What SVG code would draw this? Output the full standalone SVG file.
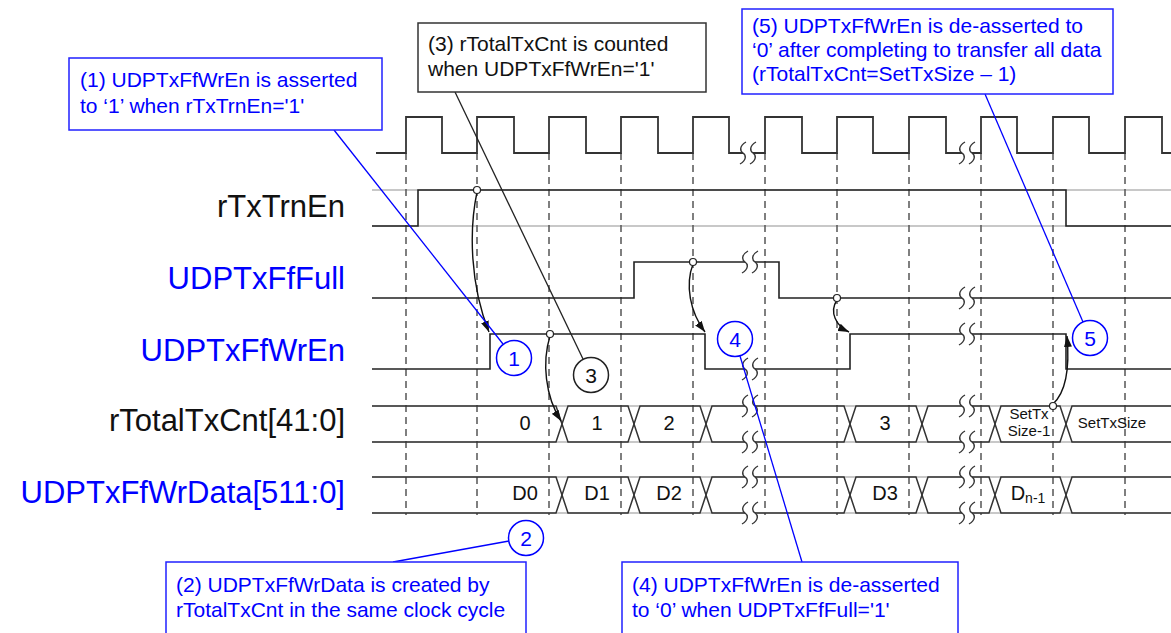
<svg xmlns="http://www.w3.org/2000/svg" xmlns:xlink="http://www.w3.org/1999/xlink" width="1171" height="633" viewBox="0 0 1171 633">
<style>
.sig{fill:none;stroke:#222;stroke-width:1.6}
.clk{fill:none;stroke:#333;stroke-width:1.8}
.guide{stroke:#c8c8c8;stroke-width:2}
.dash{stroke:#555;stroke-width:1.5;stroke-dasharray:7 5}
.bus{fill:none;stroke:#333;stroke-width:1.5}
.lbl{font-family:"Liberation Sans",Arial,sans-serif;font-size:31px;text-anchor:end}
.blue{fill:#0000ff}
.blk{fill:#111}
.ann{font-family:"Liberation Sans",Arial,sans-serif;font-size:21px}
.val{font-family:"Liberation Sans",Arial,sans-serif;font-size:20px;text-anchor:middle;fill:#111}
.bxb{fill:#fff;stroke:#2020ff;stroke-width:1.5}
.bxk{fill:#fff;stroke:#333;stroke-width:1.5}
.lead{stroke:#0000ff;stroke-width:1.3;fill:none}
.leadk{stroke:#222;stroke-width:1.3;fill:none}
.arr{fill:none;stroke:#111;stroke-width:1.4;marker-end:url(#ah)}
.dot{fill:#fff;stroke:#222;stroke-width:1.2}
.nb{fill:#fff;stroke:#0000ff;stroke-width:1.5}
.nk{fill:#fff;stroke:#222;stroke-width:1.5}
.nt{font-family:"Liberation Sans",Arial,sans-serif;font-size:21px;text-anchor:middle}
.brk{fill:none;stroke:#333;stroke-width:1.4}
</style>
<defs>
<marker id="ah" markerUnits="userSpaceOnUse" markerWidth="11" markerHeight="8" refX="11" refY="4" orient="auto">
<path d="M0,0 L11,4 L0,8 z" fill="#111"/>
</marker>
<g id="br">
<rect x="-5" y="-3" width="10" height="6" fill="#fff"/>
<path class="brk" d="M-2,-11 C-9,-7 -8,-2 -5,0 C-2,2 -1,7 -8,11"/>
<path class="brk" d="M8,-11 C1,-7 2,-2 5,0 C8,2 9,7 2,11"/>
</g>
</defs>

<g id="guides">
<line class="guide" x1="372" y1="190" x2="1171" y2="190"/>
<line class="guide" x1="372" y1="226" x2="1171" y2="226"/>
<line class="guide" x1="372" y1="406" x2="1171" y2="406"/>
<line class="guide" x1="372" y1="442" x2="1171" y2="442"/>
<line class="guide" x1="372" y1="477" x2="1171" y2="477"/>
<line class="guide" x1="372" y1="513" x2="1171" y2="513"/>
</g>

<g id="gridlines">
<line class="dash" x1="406" y1="153" x2="406" y2="515"/>
<line class="dash" x1="477" y1="153" x2="477" y2="515"/>
<line class="dash" x1="549" y1="153" x2="549" y2="515"/>
<line class="dash" x1="621" y1="153" x2="621" y2="515"/>
<line class="dash" x1="693" y1="153" x2="693" y2="515"/>
<line class="dash" x1="765" y1="153" x2="765" y2="515"/>
<line class="dash" x1="837" y1="153" x2="837" y2="515"/>
<line class="dash" x1="909" y1="153" x2="909" y2="515"/>
<line class="dash" x1="981" y1="153" x2="981" y2="515"/>
<line class="dash" x1="1053" y1="153" x2="1053" y2="515"/>
<line class="dash" x1="1125" y1="153" x2="1125" y2="515"/>
</g>

<g id="clock">
<path class="clk" d="M376,153 H406 V117 H442 V153 H477 V117 H514 V153 H549 V117 H586 V153 H621 V117 H658 V153 H693 V117 H729 V153 H765 V117 H802 V153 H837 V117 H873 V153 H909 V117 H946 V153 H981 V117 H1017 V153 H1053 V117 H1089 V153 H1125 V117 H1162 V153 H1171"/>
<use xlink:href="#br" transform="translate(748,153)"/>
<use xlink:href="#br" transform="translate(967,153)"/>
</g>

<g id="rTxTrnEn">
<text class="lbl blk" x="345" y="217">rTxTrnEn</text>
<path class="sig" d="M372,226 H418 V190 H1066 V226 H1171"/>
</g>

<g id="UDPTxFfFull">
<text class="lbl blue" x="345" y="289">UDPTxFfFull</text>
<path class="sig" d="M372,298 H634 V262 H779 V298 H1171"/>
<use xlink:href="#br" transform="translate(750,262)"/>
<use xlink:href="#br" transform="translate(967,298)"/>
</g>

<g id="UDPTxFfWrEn">
<text class="lbl blue" x="345" y="361">UDPTxFfWrEn</text>
<path class="sig" d="M372,369 H490 V334 H705 V369 H850 V334 H1066 V369 H1171"/>
<use xlink:href="#br" transform="translate(750,369)"/>
<use xlink:href="#br" transform="translate(967,334)"/>
</g>

<g id="rTotalTxCnt">
<text class="lbl blk" x="345" y="431">rTotalTxCnt[41:0]</text>
<path class="bus" d="M372,406 H556 L562,424 L556,442 H372"/>
<path class="bus" d="M562,424 L568,406 H628 L634,424 L628,442 H568 Z"/>
<path class="bus" d="M634,424 L640,406 H700 L706,424 L700,442 H640 Z"/>
<path class="bus" d="M706,424 L712,406 H844 L850,424 L844,442 H712 Z"/>
<path class="bus" d="M850,424 L856,406 H916 L922,424 L916,442 H856 Z"/>
<path class="bus" d="M922,424 L928,406 H989 L995,424 L989,442 H928 Z"/>
<path class="bus" d="M995,424 L1001,406 H1060 L1066,424 L1060,442 H1001 Z"/>
<path class="bus" d="M1171,406 H1072 L1066,424 L1072,442 H1171"/>
<use xlink:href="#br" transform="translate(750,406)"/>
<use xlink:href="#br" transform="translate(750,442)"/>
<use xlink:href="#br" transform="translate(967,406)"/>
<use xlink:href="#br" transform="translate(967,442)"/>
<text class="val" x="525" y="430">0</text>
<text class="val" x="597" y="430">1</text>
<text class="val" x="669" y="430">2</text>
<text class="val" x="885" y="430">3</text>
<text class="val" x="1029" y="419" style="font-size:15px">SetTx</text>
<text class="val" x="1029" y="436" style="font-size:15px">Size-1</text>
<text class="val" x="1112" y="428" style="font-size:15px">SetTxSize</text>
</g>

<g id="UDPTxFfWrData">
<text class="lbl blue" x="345" y="503">UDPTxFfWrData[511:0]</text>
<path class="bus" d="M372,477 H556 L562,495 L556,513 H372"/>
<path class="bus" d="M562,495 L568,477 H628 L634,495 L628,513 H568 Z"/>
<path class="bus" d="M634,495 L640,477 H700 L706,495 L700,513 H640 Z"/>
<path class="bus" d="M706,495 L712,477 H844 L850,495 L844,513 H712 Z"/>
<path class="bus" d="M850,495 L856,477 H916 L922,495 L916,513 H856 Z"/>
<path class="bus" d="M922,495 L928,477 H989 L995,495 L989,513 H928 Z"/>
<path class="bus" d="M995,495 L1001,477 H1060 L1066,495 L1060,513 H1001 Z"/>
<path class="bus" d="M1171,477 H1072 L1066,495 L1072,513 H1171"/>
<use xlink:href="#br" transform="translate(750,477)"/>
<use xlink:href="#br" transform="translate(750,513)"/>
<use xlink:href="#br" transform="translate(967,477)"/>
<use xlink:href="#br" transform="translate(967,513)"/>
<text class="val" x="525" y="500">D0</text>
<text class="val" x="597" y="500">D1</text>
<text class="val" x="669" y="500">D2</text>
<text class="val" x="885" y="500">D3</text>
<text class="val" x="1028" y="500">D<tspan style="font-size:14px" dy="3">n-1</tspan></text>
</g>

<g id="connectors">
<path class="arr" d="M477,192 C469,230 470,285 489,332"/>
<path class="arr" d="M550,336 C542,362 545,396 561,421"/>
<path class="arr" d="M693,264 C685,285 690,312 705,332"/>
<path class="arr" d="M837,300 C829,312 836,326 849,332"/>
<path class="arr" d="M1053,404 C1066,392 1070,370 1067,336"/>
<line class="lead" x1="334" y1="130" x2="503" y2="344"/>
<line class="leadk" x1="455" y1="92" x2="583" y2="359"/>
<line class="lead" x1="985" y1="94" x2="1083" y2="322"/>
<line class="lead" x1="740" y1="356" x2="802" y2="562"/>
<line class="lead" x1="393" y1="562" x2="509" y2="541"/>
</g>

<g id="dots">
<circle class="dot" cx="477" cy="190" r="3.5"/>
<circle class="dot" cx="550" cy="334" r="3.5"/>
<circle class="dot" cx="693" cy="262" r="3.5"/>
<circle class="dot" cx="837" cy="298" r="3.5"/>
<circle class="dot" cx="1053" cy="406" r="3.5"/>
</g>

<g id="num1"><circle class="nb" cx="514" cy="358" r="17.5"/><text class="nt blue" x="514" y="365.5">1</text></g>
<g id="num2"><circle class="nb" cx="526" cy="538" r="17.5"/><text class="nt blue" x="526" y="545.5">2</text></g>
<g id="num3"><circle class="nk" cx="591" cy="375" r="17.5"/><text class="nt blk" x="591" y="382.5">3</text></g>
<g id="num4"><circle class="nb" cx="735" cy="339" r="17.5"/><text class="nt blue" x="735" y="346.5">4</text></g>
<g id="num5"><circle class="nb" cx="1090" cy="338" r="17.5"/><text class="nt blue" x="1090" y="345.5">5</text></g>

<g id="note1">
<rect class="bxb" x="69" y="58" width="313" height="72"/>
<text class="ann blue" x="80" y="87">(1) UDPTxFfWrEn is asserted</text>
<text class="ann blue" x="80" y="113">to ‘1’ when rTxTrnEn='1'</text>
</g>
<g id="note3">
<rect class="bxk" x="418" y="23" width="288" height="69"/>
<text class="ann blk" x="428" y="51">(3) rTotalTxCnt is counted</text>
<text class="ann blk" x="428" y="76">when UDPTxFfWrEn='1'</text>
</g>
<g id="note5">
<rect class="bxb" x="742" y="9" width="371" height="85"/>
<text class="ann blue" x="752" y="33">(5) UDPTxFfWrEn is de-asserted to</text>
<text class="ann blue" x="752" y="57">‘0’ after completing to transfer all data</text>
<text class="ann blue" x="752" y="81">(rTotalTxCnt=SetTxSize – 1)</text>
</g>
<g id="note2">
<rect class="bxb" x="166" y="562" width="360" height="80"/>
<text class="ann blue" x="176" y="592">(2) UDPTxFfWrData is created by</text>
<text class="ann blue" x="176" y="617">rTotalTxCnt in the same clock cycle</text>
</g>
<g id="note4">
<rect class="bxb" x="622" y="562" width="336" height="80"/>
<text class="ann blue" x="632" y="592">(4) UDPTxFfWrEn is de-asserted</text>
<text class="ann blue" x="632" y="617">to ‘0’ when UDPTxFfFull='1'</text>
</g>
</svg>
